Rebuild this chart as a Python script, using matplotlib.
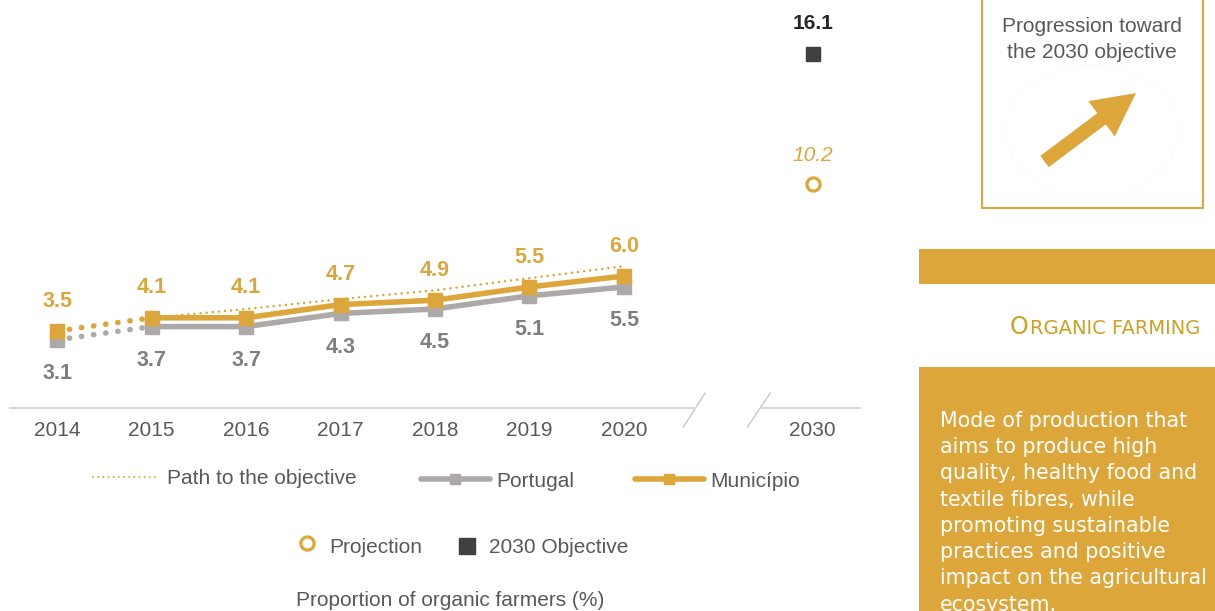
import matplotlib.pyplot as plt
from matplotlib.patches import Rectangle, FancyArrow, Ellipse

plt.rcParams['font.family'] = ['Liberation Sans', 'DejaVu Sans']

# data
years = ['2014', '2015', '2016', '2017', '2018', '2019', '2020']
target_year = '2030'
portugal = [3.1, 3.7, 3.7, 4.3, 4.5, 5.1, 5.5]
municipio = [3.5, 4.1, 4.1, 4.7, 4.9, 5.5, 6.0]
path_to_objective = [4.1, 4.5, 4.95, 5.35, 5.9, 6.45]   # 2015 -> 2020
projection_2030 = 10.2
objective_2030 = 16.1

ORANGE = '#DDA63A'
GREY = '#ADA9A9'
DARK = '#404040'
TEXT = '#595959'

fig = plt.figure(figsize=(12.15, 6.11), dpi=100)

# background layer in pixel coordinates for legend and side panel
deco = fig.add_axes([0, 0, 1, 1], zorder=0)
deco.set_xlim(0, 1215)
deco.set_ylim(611, 0)
deco.axis('off')

ax = fig.add_axes([10 / 1215, (611 - 408) / 611, 850 / 1215, 407 / 611], zorder=1)
ax.patch.set_visible(False)
for s in ax.spines.values():
    s.set_visible(False)

x = list(range(len(years)))
x_target = len(years) + 1

ax.set_xlim(-0.5, 8.5)
ax.set_ylim(0, 18.5)
ax.set_yticks([])
ax.set_xticks(x + [x_target])
ax.set_xticklabels(years + [target_year])
ax.tick_params(axis='x', length=0, pad=9, labelsize=15, labelcolor=TEXT)

# axis line with a break before 2030
ax.plot([-0.5, 6.73], [0, 0], color='#D9D9D9', lw=1.5, clip_on=False)
ax.plot([7.46, 8.5], [0, 0], color='#D9D9D9', lw=1.5, clip_on=False)
ax.plot([6.63, 6.86], [-0.86, 0.68], color='#C8C8C8', lw=1, clip_on=False)
ax.plot([7.31, 7.55], [-0.86, 0.68], color='#C8C8C8', lw=1, clip_on=False)

DOTS = (0, (0.05, 2.15))

# dotted 2014-2015 segments
ax.plot(x[:2], portugal[:2], color=GREY, lw=4.0, ls=DOTS,
        dash_capstyle='round', zorder=2)
ax.plot(x[:2], municipio[:2], color=ORANGE, lw=4.0, ls=DOTS,
        dash_capstyle='round', zorder=3)

# solid lines
ax.plot(x[1:], portugal[1:], color=GREY, lw=4, solid_capstyle='butt', zorder=2)
ax.plot(x, portugal, color=GREY, ls='none', marker='s', ms=9.5, zorder=2)
ax.plot(x[1:], municipio[1:], color=ORANGE, lw=4, solid_capstyle='butt', zorder=3)
ax.plot(x, municipio, color=ORANGE, ls='none', marker='s', ms=9.8, zorder=3)

ax.plot(x[1:], path_to_objective, color=ORANGE, lw=1.8, ls=(0, (0.05, 2.4)),
        dash_capstyle='round', zorder=4)

for xi, v in zip(x, municipio):
    ax.annotate(f'{v:.1f}', (xi, v), xytext=(0, 17.6), textcoords='offset points',
                ha='center', va='baseline', fontsize=15.5, fontweight='bold', color=ORANGE)
for xi, v in zip(x, portugal):
    ax.annotate(f'{v:.1f}', (xi, v), xytext=(0, -28.4), textcoords='offset points',
                ha='center', va='baseline', fontsize=15.5, fontweight='bold', color='#7F7F7F')

ax.plot([x_target], [projection_2030], ls='none', marker='o', ms=9.5,
        mfc='white', mec=ORANGE, mew=2.3, zorder=3)
ax.annotate(f'{projection_2030:.1f}', (x_target, projection_2030), xytext=(0, 16.5),
            textcoords='offset points', ha='center', va='baseline', fontsize=15,
            fontstyle='italic', color=ORANGE)
ax.plot([x_target], [objective_2030], ls='none', marker='s', ms=9.5, color=DARK, zorder=3)
ax.annotate(f'{objective_2030:.1f}', (x_target, objective_2030), xytext=(0, 17.6),
            textcoords='offset points', ha='center', va='baseline', fontsize=15,
            fontweight='bold', color='#262626')

# legend, row 1
deco.plot([93, 157], [477, 477], color=ORANGE, lw=1.4, ls=(0, (0.05, 2.6)),
          dash_capstyle='round')
deco.text(167, 484, 'Path to the objective', fontsize=15, color=TEXT, va='baseline')
deco.plot([421, 490], [479, 479], color=GREY, lw=4, solid_capstyle='round')
deco.plot([455], [479], ls='none', marker='s', ms=7, color=GREY)
deco.text(496, 487, 'Portugal', fontsize=15, color=TEXT, va='baseline')
deco.plot([635, 704], [479, 479], color=ORANGE, lw=4, solid_capstyle='round')
deco.plot([669], [479], ls='none', marker='s', ms=7, color=ORANGE)
deco.text(710, 487, 'Município', fontsize=15, color=TEXT, va='baseline')

# legend, row 2
deco.plot([307], [543], ls='none', marker='o', ms=9.5, mfc='white', mec=ORANGE, mew=2.3)
deco.text(329, 553, 'Projection', fontsize=15, color=TEXT, va='baseline')
deco.plot([467], [546], ls='none', marker='s', ms=11, color=DARK)
deco.text(489, 553, '2030 Objective', fontsize=15, color=TEXT, va='baseline')

deco.text(450, 606, 'Proportion of organic farmers (%)', fontsize=15, color=TEXT,
          ha='center', va='baseline')

# side panel
deco.add_patch(Rectangle((982, -5), 221, 213, fill=False, edgecolor=ORANGE, lw=1.5))
deco.text(1092, 31.5, 'Progression toward', fontsize=15, color=TEXT, ha='center', va='baseline')
deco.text(1092, 58, 'the 2030 objective', fontsize=15, color=TEXT, ha='center', va='baseline')
deco.add_patch(Ellipse((1092, 131), 173, 132, fill=False, edgecolor='#FCFCFC', lw=1))
deco.add_patch(FancyArrow(1044.5, 161.5, 91.5, -68.5, width=14, head_width=44,
                          head_length=43, length_includes_head=True,
                          color=ORANGE, lw=0))

deco.add_patch(Rectangle((919, 249), 296, 35, color=ORANGE, lw=0))

GOLD = '#CFA024'
head = deco.text(1200, 334, 'RGANIC FARMING', fontsize=14, color=GOLD,
                 ha='right', va='baseline', family='DejaVu Sans')
fig.canvas.draw()
bb = head.get_window_extent()
# big initial letter placed right before the small caps (pixel coords -> data)
ox, _ = deco.transData.inverted().transform((bb.x0, 0))
deco.text(ox - 1, 334, 'O', fontsize=17, color=GOLD, ha='right',
          va='baseline', family='DejaVu Sans')

deco.add_patch(Rectangle((919, 367), 296, 250, color=ORANGE, lw=0))
paragraph = ['Mode of production that', 'aims to produce high',
             'quality, healthy food and', 'textile fibres, while',
             'promoting sustainable', 'practices and positive',
             'impact on the agricultural', 'ecosystem.']
for i, line in enumerate(paragraph):
    deco.text(940, 426.7 + i * 26.3, line, fontsize=14.8, color='white',
              va='baseline', family='DejaVu Sans')

fig.savefig('out.png', dpi=100)
